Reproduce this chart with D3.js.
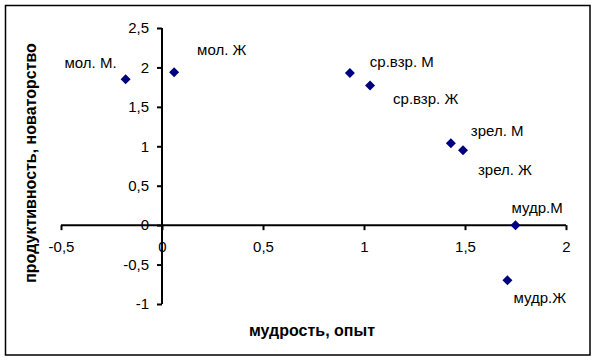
<!DOCTYPE html>
<html><head><meta charset="utf-8">
<script src="https://cdn.jsdelivr.net/npm/d3@7"></script>
<style>body{margin:0;background:#fff}svg{display:block}text{font-family:"Liberation Sans",Arial,sans-serif}</style>
</head><body><svg id="c" width="597" height="362"></svg>
<script>
const labels = ["мол. М.","мол. Ж","ср.взр. М","ср.взр. Ж","зрел. М","зрел. Ж","мудр.М","мудр.Ж"];
const xValues = [-0.18, 0.06, 0.93, 1.03, 1.43, 1.49, 1.75, 1.71];
const yValues = [1.85, 1.94, 1.93, 1.77, 1.04, 0.95, 0.00, -0.70];
const xTicks = [-0.5, 0, 0.5, 1, 1.5, 2];
const yTicks = [-1, -0.5, 0, 0.5, 1, 1.5, 2, 2.5];
const xTitle = "мудрость, опыт";
const yTitle = "продуктивность, новаторство";
// label offsets (dx, dy, anchor)
const labelPos = [[-9,-11,"end"],[23,-17,"start"],[20,-6,"start"],[23,18,"start"],[20,-7,"start"],[15,25,"start"],[-4,-12,"start"],[6,23,"start"]];

const svg = d3.select("#c");
svg.append("rect").attr("x",5.5).attr("y",5.5).attr("width",584.5).attr("height",349.5)
  .attr("fill","#fff").attr("stroke","#000").attr("stroke-width",1.5);

const x = d3.scaleLinear().domain([-0.5,2]).range([61,566]);
const y = d3.scaleLinear().domain([-1,2.5]).range([304,28]);
const fmt = d => String(d).replace(".", ",");

const xAxis = svg.append("g").attr("transform",`translate(0,${y(0)})`)
  .call(d3.axisBottom(x).tickValues(xTicks).tickFormat(fmt).tickSize(5).tickPadding(11));
const yAxis = svg.append("g").attr("transform",`translate(${x(0)},0)`)
  .call(d3.axisLeft(y).tickValues(yTicks).tickFormat(fmt).tickSize(5).tickPadding(8));
[xAxis,yAxis].forEach(g=>{
  g.select(".domain").attr("stroke","#000").attr("stroke-width",2);
  g.selectAll(".tick line").attr("stroke","#000").attr("stroke-width",2);
  g.selectAll(".tick text").attr("fill","#000").style("font-size","15px").style("font-family","'Liberation Sans',Arial,sans-serif");
});
xAxis.select(".domain").attr("d",`M${x(-0.5)},0H${x(2)}`);
yAxis.select(".domain").attr("d",`M0,${y(-1)}V${y(2.5)}`);

const data = labels.map((l,i)=>({l, x:xValues[i], y:yValues[i], p:labelPos[i]}));
svg.append("g").selectAll("path").data(data).join("path")
  .attr("d", "M0,-5L5,0L0,5L-5,0Z")
  .attr("transform", d=>`translate(${x(d.x)},${y(d.y)})`)
  .attr("fill","#000080");
svg.append("g").selectAll("text").data(data).join("text")
  .attr("x", d=>x(d.x)+d.p[0]).attr("y", d=>y(d.y)+d.p[1])
  .attr("text-anchor", d=>d.p[2]).style("font-size","15px").attr("fill","#000")
  .text(d=>d.l);

svg.append("text").attr("x",312).attr("y",336).attr("text-anchor","middle")
  .style("font-size","16px").style("font-weight","bold").text(xTitle);
svg.append("text").attr("transform","translate(36,163) rotate(-90)").attr("text-anchor","middle")
  .style("font-size","16px").style("font-weight","bold").text(yTitle);
</script></body></html>
